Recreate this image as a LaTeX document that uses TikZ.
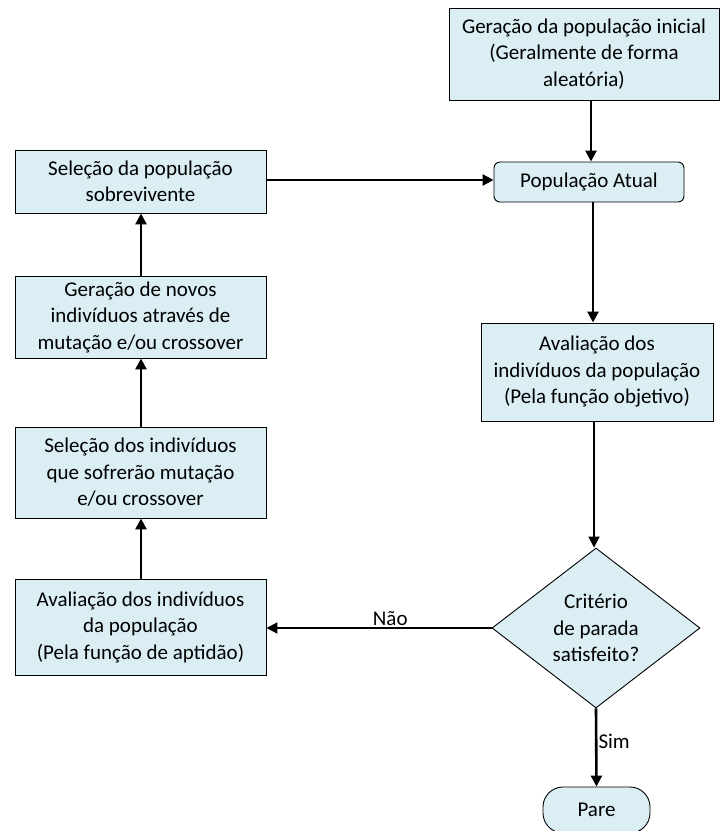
\documentclass[tikz,border=0pt]{standalone}
\usepackage{fontspec}
\setmainfont{Carlito}
\usetikzlibrary{shapes.geometric,arrows.meta}
\definecolor{boxfill}{HTML}{DAEEF3}
\tikzset{
  box/.style={draw=black, line width=0.9pt, fill=boxfill, align=center, inner sep=0pt, font=\fontsize{21}{26.5}\selectfont},
  arr/.style={line width=2.6pt, -{Triangle[length=11pt,width=11pt]}},
  lbl/.style={font=\fontsize{21}{26.5}\selectfont, inner sep=1pt}
}
\begin{document}
\begin{tikzpicture}[x=1pt,y=-1pt]
\useasboundingbox[fill=white] (0,0) rectangle (721,831);
% right column
\node[box, minimum width=270pt, minimum height=92pt] (ini) at (584,54) {Geração da população inicial\\(Geralmente de forma\\aleatória)};
\node[box, rounded corners=6pt, minimum width=190pt, minimum height=40pt] (pop) at (589,182) {População Atual};
\node[box, minimum width=232pt, minimum height=98pt] (avr) at (597,372) {Avaliação dos\\indivíduos da população\\(Pela função objetivo)};
\node[box, diamond, aspect=1.3, minimum width=208pt, minimum height=160pt] (dec) at (596,628) {Critério\\de parada\\satisfeito?};
\node[box, rounded corners=20pt, minimum width=107pt, minimum height=46pt] (pare) at (596.5,810) {Pare};
% left column
\node[box, minimum width=251pt, minimum height=63pt] (sob) at (140.5,181.5) {Seleção da população\\sobrevivente};
\node[box, minimum width=251pt, minimum height=82pt] (ger) at (140.5,317) {Geração de novos\\indivíduos através de\\mutação e/ou crossover};
\node[box, minimum width=251pt, minimum height=91pt] (sel) at (140.5,472.5) {Seleção dos indivíduos\\que sofrerão mutação\\e/ou crossover};
\node[box, minimum width=251pt, minimum height=96pt] (avl) at (140.5,627) {Avaliação dos indivíduos\\da população\\(Pela função de aptidão)};
% connectors
\coordinate (c1) at (591,0);
\draw[arr] (ini.south -| c1) -- (pop.north -| c1);
\coordinate (c2) at (593,0);
\draw[arr] (pop.south -| c2) -- (avr.north -| c2);
\coordinate (c3) at (594,0);
\draw[arr, line width=1.8pt] (avr.south -| c3) -- (dec.north -| c3);
\draw[arr] (dec.south) -- node[lbl, right, pos=0.42] {Sim} (pare.north);
\draw[arr, line width=2pt] (dec.west) -- node[lbl, above, pos=0.45] {Não} (dec.west -| avl.east);
\coordinate (c4) at (141,0);
\draw[arr] (avl.north -| c4) -- (sel.south -| c4);
\draw[arr] (sel.north -| c4) -- (ger.south -| c4);
\draw[arr] (ger.north -| c4) -- (sob.south -| c4);
\coordinate (c5) at (0,180);
\draw[arr] (sob.east |- c5) -- (pop.west |- c5);
\end{tikzpicture}
\end{document}
